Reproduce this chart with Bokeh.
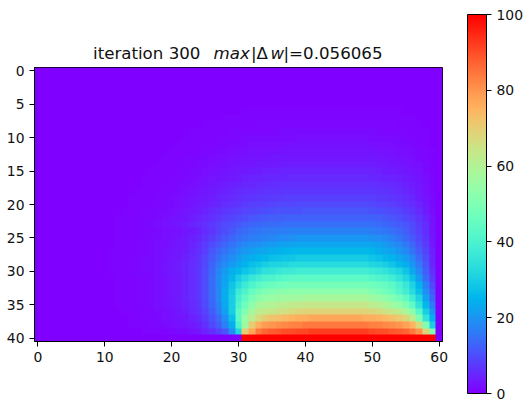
from bokeh.plotting import figure
from bokeh.models import ColorBar, LinearColorMapper, Title, FixedTicker, Range1d
from bokeh.embed import file_html
from bokeh.resources import INLINE
import numpy as np

Z10 = [0] * 10
L5 = [0,0,0,0,0,.1,.1,.1,.2,.2]
row_values = [
    [0] * 61,
    [0] * 61,
    [0] * 61,
    [0] * 61,
    [0] * 61,
    Z10 + Z10 + [0,0,0,0,.1,.1,.1,.1,.2,.2] + [.2,.2,.3,.3,.3,.3,.3,.3,.3,.3] + [.3]*10 + [.3,.3,.3,.3,.2,.2,.2,.1,.1,0] + [0],
    Z10 + [0,0,0,0,0,0,0,.1,.1,.1] + [.1,.1,.1,.2,.2,.2,.2,.3,.3,.3] + [.3,.4,.4,.4,.4,.4,.5,.5,.5,.5] + [.5]*10 + [.5,.5,.5,.4,.4,.3,.3,.2,.1,.1] + [0],
    Z10 + [0,0,0,0,0,0,.1,.1,.1,.1] + [.1,.1,.2,.2,.2,.3,.3,.3,.4,.4] + [.5,.5,.5,.6,.6,.6,.6,.7,.7,.7] + [.7]*10 + [.7,.7,.6,.6,.5,.5,.4,.3,.2,.1] + [0],
    Z10 + [0,0,0,0,0,0,.1,.1,.1,.1] + [.2,.2,.2,.3,.3,.4,.4,.5,.5,.6] + [.6,.7,.7,.8,.8,.8,.9,.9,.9,.9] + [.9]*10 + [.9,.9,.8,.8,.7,.6,.5,.4,.3,.1] + [0],
    Z10 + [0,0,0,0,0,.1,.1,.1,.2,.2] + [.2,.3,.3,.4,.4,.5,.5,.6,.7,.8] + [.8,.9,1,1,1.1,1.1,1.1,1.2,1.2,1.2] + [1.2]*10 + [1.2,1.1,1.1,1,.9,.8,.7,.5,.4,.2] + [0],
    Z10 + [0,0,0,0,.1,.1,.1,.2,.2,.2] + [.3,.3,.4,.5,.5,.6,.7,.8,.9,1] + [1.1,1.2,1.3,1.3,1.4,1.4,1.5,1.5,1.5,1.6] + [1.6]*10 + [1.5,1.5,1.4,1.3,1.2,1,.9,.7,.5,.2] + [0],
    Z10 + [0,0,0,.1,.1,.1,.2,.2,.2,.3] + [.3,.4,.5,.6,.7,.8,.9,1,1.1,1.3] + [1.4,1.5,1.6,1.7,1.8,1.8,1.9,1.9,2,2] + [2]*10 + [1.9,1.9,1.8,1.6,1.5,1.3,1.1,.9,.6,.3] + [0],
    Z10 + [0,0,.1,.1,.1,.2,.2,.2,.3,.3] + [.4,.5,.6,.7,.9,1,1.1,1.3,1.4,1.6] + [1.7,1.9,2,2.1,2.2,2.3,2.3,2.4,2.4,2.5] + [2.5]*10 + [2.4,2.3,2.2,2,1.9,1.7,1.4,1.1,.8,.4] + [0],
    Z10 + [0,.1,.1,.1,.1,.2,.2,.3,.3,.4] + [.5,.6,.8,.9,1.1,1.2,1.4,1.6,1.8,2] + [2.2,2.3,2.5,2.6,2.7,2.8,2.9,3,3,3] + [3.1]*10 + [3,2.9,2.7,2.5,2.3,2.1,1.8,1.4,1,.5] + [0],
    Z10 + [.1,.1,.1,.1,.2,.2,.3,.3,.4,.5] + [.6,.8,.9,1.1,1.3,1.5,1.7,1.9,2.2,2.4] + [2.6,2.8,3,3.2,3.3,3.4,3.5,3.6,3.6,3.7] + [3.8]*10 + [3.6,3.5,3.3,3.1,2.8,2.5,2.2,1.7,1.2,.6] + [0],
    [0,0,0,0,0,0,0,0,0,.1] + [.1,.1,.1,.2,.2,.3,.3,.4,.5,.6] + [.7,.9,1.1,1.3,1.5,1.8,2,2.3,2.6,2.9] + [3.2,3.4,3.6,3.8,4,4.1,4.2,4.3,4.3,4.4] + [4.5]*10 + [4.3,4.1,3.9,3.7,3.4,3,2.6,2.1,1.4,.7] + [0],
    [0,0,0,0,0,0,0,0,0,.1] + [.1,.1,.1,.2,.2,.3,.4,.5,.6,.7] + [.9,1.1,1.3,1.5,1.8,2.1,2.4,2.7,3.1,3.4] + [3.7,4,4.3,4.5,4.7,4.8,4.9,5,5.1,5.1] + [5.2]*10 + [5,4.8,4.6,4.3,4,3.6,3.1,2.4,1.7,.8] + [0],
    [0,0,0,0,0,0,0,0,.1,.1] + [.1,.1,.2,.2,.3,.3,.4,.5,.7,.8] + [1,1.2,1.5,1.8,2.1,2.4,2.8,3.2,3.6,4] + [4.4,4.7,5,5.2,5.4,5.6,5.8,5.9,6,6] + [6.1]*10 + [5.9,5.7,5.4,5.1,4.7,4.2,3.6,2.9,2,1] + [0],
    [0,0,0,0,0,0,0,0,.1,.1] + [.1,.1,.2,.2,.3,.4,.5,.6,.8,.9] + [1.1,1.4,1.7,2,2.4,2.8,3.2,3.7,4.2,4.7] + [5.1,5.5,5.8,6.1,6.4,6.5,6.7,6.8,6.9,6.9] + [7]*10 + [6.9,6.6,6.3,5.9,5.4,4.9,4.2,3.3,2.3,1.1] + [0],
    [0,0,0,0,0,0,0,.1,.1,.1] + [.1,.2,.2,.3,.4,.5,.6,.7,.9,1.1] + [1.3,1.6,2,2.4,2.8,3.2,3.7,4.3,4.8,5.4] + [5.9,6.4,6.8,7.1,7.4,7.6,7.8,7.9,8,8.1] + [8.2]*10 + [8,7.7,7.3,6.9,6.3,5.7,4.9,3.9,2.7,1.3] + [0],
    [0,0,0,0,0,0,0,.1,.1,.1] + [.1,.2,.3,.3,.4,.5,.7,.8,1,1.3] + [1.5,1.9,2.3,2.7,3.2,3.8,4.4,5,5.7,6.3] + [6.9,7.5,7.9,8.2,8.5,8.8,9,9.2,9.3,9.4] + [9.5]*10 + [9.3,8.9,8.5,8,7.4,6.6,5.7,4.5,3.2,1.5] + [0],
    [0,0,0,0,0,0,.1,.1,.1,.1] + [.2,.2,.3,.4,.5,.6,.8,1,1.2,1.5] + [1.8,2.2,2.7,3.2,3.8,4.5,5.2,6,6.8,7.5] + [8.2,8.8,9.3,9.7,10.1,10.3,10.6,10.7,10.8,10.9] + [11]*10 + [10.8,10.4,10,9.4,8.7,7.8,6.7,5.3,3.8,1.8] + [0],
    [0,0,0,0,0,0,.1,.1,.1,.2] + [.2,.3,.4,.5,.6,.7,.9,1.1,1.4,1.7] + [2.1,2.6,3.1,3.8,4.5,5.3,6.2,7.1,8,8.9] + [9.7,10.4,11,11.5,11.9,12.2,12.4,12.5,12.6,12.7] + [12.8]*10 + [12.6,12.2,11.7,11.1,10.3,9.3,8,6.4,4.5,2.2] + [0],
    [0,0,0,0,0,0,.1,.1,.2,.2] + [.3,.3,.4,.5,.7,.8,1,1.3,1.6,2] + [2.4,3,3.6,4.4,5.2,6.2,7.2,8.3,9.4,10.5] + [11.3,12.2,13,13.5,14,14.2,14.4,14.5,14.6,14.7] + [14.7]*10 + [14.5,14,13.5,12.8,12,11,9.5,7.5,5.5,2.6] + [0],
    L5 + [.3,.3,.4,.5,.6,.7,.9,1.1,1.3,1.6] + [1.9,2.3,2.8,3.5,4.2,5.5,7,8.5,10,11] + [13,14,15,15.5,16,16,16.5,16.5,17,17] + [17]*10 + [16.5,16,15.5,14.5,13.5,12,10,8,5.5,2.6] + [0],
    L5 + [.3,.3,.4,.5,.6,.8,1,1.2,1.5,1.8] + [2.2,2.7,3.2,4,5,6.5,8,10,11.5,13] + [14.5,15.5,16.5,17,17.5,18,18.5,19,19.5,20] + [20]*10 + [19.5,19,18,17,15.5,13.5,11.5,9,6.5,3] + [0],
    L5 + [.3,.3,.4,.5,.7,.8,1,1.3,1.6,1.9] + [2.4,2.9,3.5,4.4,5.5,7.5,9.5,11.5,13,15] + [16.5,18,19,19.5,20.5,21,21.5,22,22.5,23] + [23]*10 + [22.5,22,21,19.5,18,16,13.5,10.5,7.5,3.5] + [0],
    L5 + [.3,.4,.5,.6,.7,.9,1.1,1.4,1.7,2.1] + [2.6,3.1,3.9,4.8,6,8,11,13,15,17] + [19,20.5,21.5,22.5,23,24,24.5,25,25.5,26] + [26]*10 + [25,24,23,22,20,18,15,12,8.5,4] + [0],
    L5 + [.3,.4,.5,.6,.8,1,1.2,1.5,1.8,2.2] + [2.8,3.4,4.2,5.2,6.5,9,12,14.5,17,19] + [21,23,24,25,26,27,27.5,28,28.5,29] + [29]*10 + [28,27,26,25,23,21,18,14,10,4.5] + [0],
    L5 + [.3,.4,.5,.6,.8,1,1.2,1.5,1.9,2.4] + [3,3.7,4.6,5.7,7,9.5,13,16,19,21] + [23,25,27,28.5,30,31,31.5,32,33,33] + [33]*10 + [32,31,30,28,26,24,20,16,11,5] + [0],
    L5 + [.3,.4,.5,.6,.8,1,1.2,1.5,1.9,2.4] + [3,3.7,4.6,5.7,7,10,13.5,17.5,21,24] + [26,28,30,32,34,35,36,37,37,38] + [38]*10 + [37,36,35,33,31,28,23,18,12,6] + [0],
    L5 + [.3,.3,.4,.5,.7,.9,1.1,1.4,1.8,2.2] + [2.8,3.5,4.4,5.6,7,10,14,18,22,26] + [30,33,36,38,40,41,42,42.5,43,43] + [43]*10 + [42,41,40,38,35,32,27,21,14,7.5] + [0],
    L5 + [.3,.3,.4,.5,.7,.9,1.1,1.4,1.8,2.2] + [2.8,3.5,4.4,5.6,7,10,14,18,23,28] + [33,37,41,43,45,46,47,47.5,48,48] + [48]*10 + [47,46,45,43,40,36,31,25,17,9] + [0],
    L5 + [.3,.3,.4,.5,.7,.9,1.1,1.4,1.8,2.2] + [2.8,3.5,4.4,5.6,7,10,14,18,24,29] + [37,41,45,48,50,51,52,52,53,53] + [53]*10 + [51,49,47,45,42,38,33,27,19,11] + [0],
    L5 + [.3,.3,.4,.5,.7,.9,1.1,1.4,1.8,2.2] + [2.8,3.5,4.4,5.6,7,10,13.5,18,24,30] + [39,44,49,52,54,55,56,57,57,57] + [58]*10 + [56,55,53,51,48,44,38,31,22,13] + [0],
    [0,0,0,0,0,0,.1,.1,.1,.2] + [.2,.3,.4,.4,.6,.8,1,1.2,1.6,2] + [2.5,3.2,4,5.2,6.5,9.5,13,17,23,30] + [41,47,53,58,59,60,61,62,63,63] + [64]*10 + [62,61,59,57,54,50,44,35,26,16] + [0],
    [0,0,0,0,0,0,.1,.1,.1,.2] + [.2,.3,.3,.4,.5,.7,.9,1.1,1.4,1.8] + [2.3,2.9,3.7,4.7,6,8.5,12,16,22,30] + [43,50,58,62,63,64,65,66,67,68] + [69]*10 + [68,67,65,64,62,58,52,42,30,20] + [0],
    [0,0,0,0,0,0,0,.1,.1,.1] + [.2,.2,.3,.3,.4,.6,.8,1,1.3,1.6] + [2,2.5,3.1,4,5,7.5,10.5,14,19,27] + [43,55,62,67,70,72,73,74,75,76] + [76,77,77,77,77,77,77,77,77,76] + [76,75,74,73,71,68,62,50,35,24] + [0],
    [0,0,0,0,0,0,0,.1,.1,.1] + [.1,.2,.2,.3,.4,.5,.7,.9,1.1,1.4] + [1.7,2.1,2.6,3.2,4,6,9,12,17,24] + [40,56,70,76,79,80,81,82,83,83] + [84]*10 + [83,83,82,81,80,78,75,67,50,30] + [0],
    Z10 + [.1,.1,.2,.2,.2,.3,.4,.5,.6,.7] + [1,1.2,1.5,2,3,4.5,6,8,11,19] + [32,70,77,84,87,88,89,90,90,91] + [91,92,92,92,92,92,92,92,92,92] + [91,90,90,89,88,87,84,80,68,50] + [0],
    [0] * 31 + [100] * 29 + [0],
]
x_ticks = [0, 10, 20, 30, 40, 50, 60]
y_ticks = [0, 5, 10, 15, 20, 25, 30, 35, 40]
bar_ticks = [0, 20, 40, 60, 80, 100]
title_parts = ["iteration 300", "max", "|Δ", "w", "|=0.056065"]

values = np.array(row_values, dtype=float)


def rainbow(n=256):
    out = []
    for t in np.linspace(0, 1, n):
        r = min(1.0, abs(2 * t - 0.5))
        g = np.sin(np.pi * t)
        b = np.cos(np.pi * t / 2)
        out.append("#%02x%02x%02x" % (round(r * 255), round(g * 255), round(max(b, 0) * 255)))
    return out


mapper = LinearColorMapper(palette=rainbow(), low=0, high=100)

p = figure(
    width=529, height=400, output_backend="svg", toolbar_location=None,
    x_range=Range1d(-0.5, 60.5), y_range=Range1d(40.5, -0.5),
    min_border_left=34, min_border_right=87, min_border_top=67, min_border_bottom=59,
    margin=(0, 0, 0, 0),
)
p.grid.visible = False
p.image(image=[values], x=-0.5, y=-0.5, dw=61, dh=41, color_mapper=mapper)

font = "DejaVu Sans"
for ax, ticks in ((p.xaxis[0], x_ticks), (p.yaxis[0], y_ticks)):
    ax.ticker = FixedTicker(ticks=ticks)
    ax.major_label_text_font = font
    ax.major_label_text_font_size = "13.9px"
    ax.major_label_text_color = "#111111"
    ax.major_tick_line_color = "black"
    ax.major_tick_in = 0
    ax.major_tick_out = 5
    ax.minor_tick_line_color = None
    ax.axis_line_color = "black"
p.outline_line_color = "black"
p.outline_line_width = 1

bar = ColorBar(
    color_mapper=mapper, width=19, height=379, location=(25, -52), padding=0, margin=0,
    ticker=FixedTicker(ticks=bar_ticks), major_tick_in=0, major_tick_out=5,
    major_tick_line_color="black", bar_line_color="black", minor_tick_line_color=None,
    border_line_color=None, background_fill_color=None, major_label_text_font=font,
    major_label_text_font_size="13.9px", major_label_text_color="#111111",
)
p.add_layout(bar, "right")

# empty title closest to the frame: it lifts the overlapping title pieces clear of the frame
p.add_layout(Title(text=" ", standoff=-6, text_font=font, text_font_size="13.9px"), "above")

positions = [(92.5, "normal"), (213, "italic"), (250.5, "normal"), (270, "italic"), (283, "normal")]
for text, (px, style) in zip(title_parts, positions):
    p.add_layout(Title(text=text, align="left", offset=px - 34, vertical_align="top",
                       standoff=-24, text_font=font, text_font_size="16.67px",
                       text_font_style=style, text_color="#111111"), "above")

open("out.html", "w").write(file_html(p, INLINE))
